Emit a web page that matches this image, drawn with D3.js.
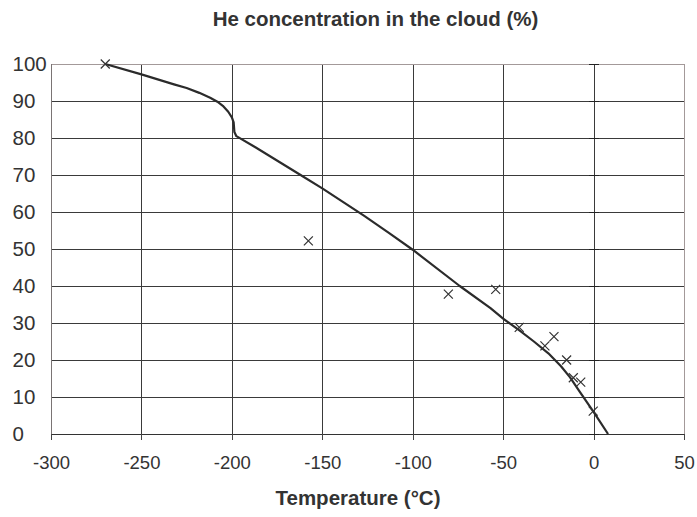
<!DOCTYPE html>
<html>
<head>
<meta charset="utf-8">
<script src="https://cdn.jsdelivr.net/npm/d3@7"></script>
<style>
  html, body { margin: 0; padding: 0; background: #fff; }
  svg { display: block; font-family: "Liberation Sans", Arial, sans-serif; }
</style>
</head>
<body>
<svg id="chart" width="697" height="517"></svg>
<script>
// ---- data ----
const chartTitle = "He concentration in the cloud (%)";
const xTitle = "Temperature (°C)";
const xTicks = [-300, -250, -200, -150, -100, -50, 0, 50];
const yTicks = [0, 10, 20, 30, 40, 50, 60, 70, 80, 90, 100];

// curve (temperature °C, He %)
const curveT = [-270, -250, -232, -225, -218, -212, -208, -205, -202, -200, -199, -198.6, -197.5,
                -187, -162, -150, -127, -113, -100, -74, -57, -50, -41, -33, -25, -18, -13, -7.5, 0, 8];
const curveV = [100, 97.2, 94.5, 93.5, 92.2, 90.9, 89.8, 88.7, 87.1, 85.6, 84.2, 81.6, 80.5,
                77.5, 70.0, 66.4, 59.0, 54.3, 49.8, 40.0, 34.0, 31.2, 28.0, 25.0, 21.8, 18.3, 15.3, 11.3, 6.0, 0];

// measured points (×)
const markT = [-270, -157.7, -80.3, -54.1, -41.1, -26.9, -21.9, -14.9, -11.2, -7.1, -0.2];
const markV = [100, 52.2, 37.8, 39.1, 28.8, 23.8, 26.3, 20.0, 15.2, 14.0, 6.2];

// ---- layout ----
const W = 697, H = 517;
const m = { left: 51, right: 13, top: 64, bottom: 83 };
const svg = d3.select("#chart");
const x = d3.scaleLinear().domain([-300, 50]).range([m.left, W - m.right]);
const y = d3.scaleLinear().domain([0, 100]).range([H - m.bottom, m.top]);
const ink = "#333333";

const g = svg.append("g");

// horizontal gridlines
g.append("g")
  .attr("transform", `translate(${m.left},0)`)
  .call(d3.axisLeft(y).tickValues(yTicks).tickSize(-(W - m.left - m.right)).tickFormat(""))
  .call(a => a.select(".domain").remove())
  .call(a => a.selectAll("line").attr("stroke", "#3a3a3a").attr("shape-rendering", "crispEdges"));

// vertical gridlines
g.append("g")
  .attr("transform", `translate(0,${m.top})`)
  .call(d3.axisBottom(x).tickValues(xTicks).tickSize(H - m.top - m.bottom).tickFormat(""))
  .call(a => a.select(".domain").remove())
  .call(a => a.selectAll("line").attr("stroke", "#3a3a3a").attr("shape-rendering", "crispEdges"));

// plot border: top / right (light), left (grey)
g.append("line").attr("x1", x(-300)).attr("x2", x(50)).attr("y1", y(100)).attr("y2", y(100))
  .attr("stroke", "#a39999").attr("shape-rendering", "crispEdges");
g.append("line").attr("x1", x(50)).attr("x2", x(50)).attr("y1", y(100)).attr("y2", y(0))
  .attr("stroke", "#a39999").attr("shape-rendering", "crispEdges");
g.append("line").attr("x1", x(-300)).attr("x2", x(-300)).attr("y1", y(100)).attr("y2", y(0) + 6)
  .attr("stroke", "#7a7474").attr("shape-rendering", "crispEdges");

// bottom axis with ticks
const xAxis = g.append("g")
  .attr("transform", `translate(0,${y(0)})`)
  .call(d3.axisBottom(x).tickValues(xTicks).tickSize(6).tickFormat(d3.format("d")));
xAxis.select(".domain").attr("stroke", "#333").attr("shape-rendering", "crispEdges");
xAxis.selectAll("line").attr("stroke", "#444").attr("shape-rendering", "crispEdges");
xAxis.selectAll("text")
  .attr("fill", ink).attr("font-size", 18.5)
  .attr("y", 35).attr("dy", 0)
  .text(d => String(d).replace("\u2212", "-"));

// small cross ticks on the vertical axis at x = 0
const zeroAxis = g.append("g").attr("transform", `translate(${x(0)},0)`);
zeroAxis.append("g").call(d3.axisLeft(y).tickValues(yTicks).tickSize(5).tickFormat(""));
zeroAxis.append("g").call(d3.axisRight(y).tickValues(yTicks).tickSize(5).tickFormat(""));
zeroAxis.selectAll(".domain").remove();
zeroAxis.selectAll("line").attr("stroke", "#222").attr("shape-rendering", "crispEdges");

// y labels (left aligned)
g.append("g").selectAll("text").data(yTicks).join("text")
  .attr("x", 12.5).attr("y", d => y(d)).attr("dy", "0.36em")
  .attr("font-size", 20.5).attr("fill", ink)
  .text(d => d);

// curve
const curve = curveT.map((t, i) => [t, curveV[i]]);
g.append("path").datum(curve)
  .attr("fill", "none").attr("stroke", "#2b2b2b").attr("stroke-width", 2.2)
  .attr("stroke-linejoin", "round")
  .attr("d", d3.line().x(d => x(d[0])).y(d => y(d[1])));

// markers ×
const s = 4.5;
const marks = markT.map((t, i) => [t, markV[i]]);
g.append("g").selectAll("path").data(marks).join("path")
  .attr("d", d => {
    const cx = x(d[0]), cy = y(d[1]);
    return `M${cx - s},${cy - s}L${cx + s},${cy + s}M${cx - s},${cy + s}L${cx + s},${cy - s}`;
  })
  .attr("stroke", "#333").attr("stroke-width", 1.2).attr("fill", "none");

// titles
svg.append("text").attr("x", 375.5).attr("y", 25.5).attr("text-anchor", "middle")
  .attr("font-size", 20.5).attr("font-weight", "bold").attr("fill", ink)
  .text(chartTitle);
svg.append("text").attr("x", 358).attr("y", 505).attr("text-anchor", "middle")
  .attr("font-size", 20.5).attr("font-weight", "bold").attr("fill", ink)
  .text(xTitle);
</script>
</body>
</html>
